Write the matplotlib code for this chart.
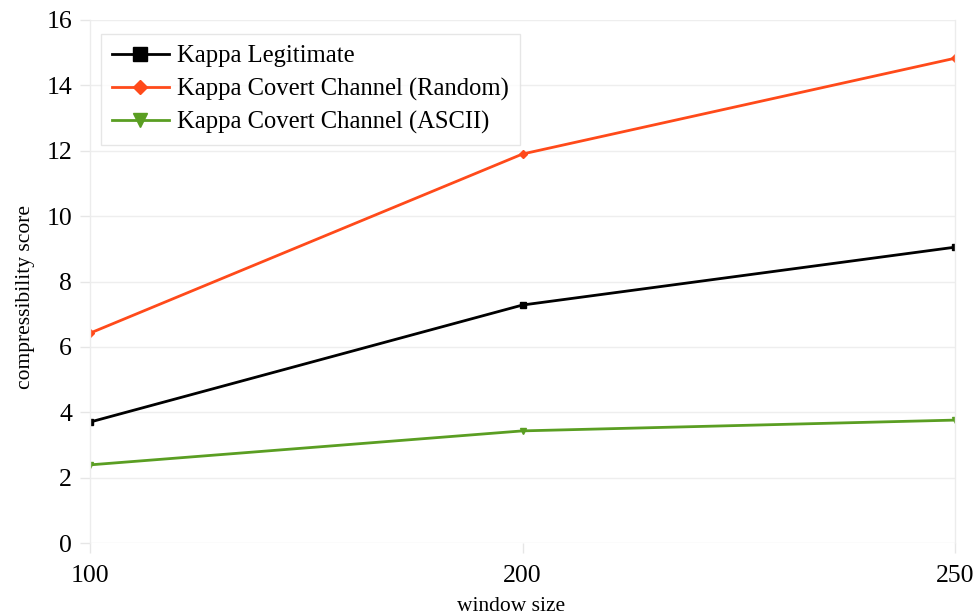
import matplotlib
matplotlib.use('Agg')
import matplotlib.pyplot as plt

plt.rcParams['font.family'] = ['Liberation Serif', 'DejaVu Serif']

window_sizes = ['100', '200', '250']
kappa_legit = [3.70, 7.28, 9.05]
kappa_random = [6.42, 11.90, 14.83]
kappa_ascii = [2.39, 3.43, 3.76]

fig = plt.figure(figsize=(9.76, 6.16), dpi=100)
ax = fig.add_axes([90 / 976, 1 - 543 / 616, 865 / 976, 523 / 616])

x = range(len(window_sizes))
ax.plot(x, kappa_legit, color='black', lw=2.0, marker='s', ms=5,
        label='Kappa Legitimate')
ax.plot(x, kappa_random, color='#ff4a1a', lw=2.0, marker='D', ms=4,
        label='Kappa Covert Channel (Random)')
ax.plot(x, kappa_ascii, color='#5a9e22', lw=2.0, marker='v', ms=5,
        label='Kappa Covert Channel (ASCII)')

ax.set_xlim(0, 2)
ax.set_ylim(0, 16)
ax.set_xticks(list(x))
ax.set_xticklabels(window_sizes)
ax.set_yticks(range(0, 17, 2))
ax.tick_params(labelsize=18.5, color='#e6e6e6', length=7, width=1)
ax.tick_params(axis='x', pad=9)
ax.tick_params(axis='y', pad=6)

# horizontal grid only, light side borders
ax.grid(True, axis='y', color='#eeeeee', lw=1)
for side in ['top', 'bottom']:
    ax.spines[side].set_visible(False)
for side in ['left', 'right']:
    ax.spines[side].set_color('#ececec')
    ax.spines[side].set_linewidth(1)
ax.set_axisbelow(True)

ax.set_xlabel('window size', fontsize=15.5)
ax.set_ylabel('compressibility score', fontsize=15.5)
ax.xaxis.set_label_coords(0.487, -0.104)
ax.yaxis.set_label_coords(-0.064, 0.47)

leg = ax.legend(loc='upper left', bbox_to_anchor=(0.0127, 0.973), borderaxespad=0,
                fontsize=17.7, frameon=True, fancybox=False, markerscale=1.9,
                handlelength=2.3, handletextpad=0.35, borderpad=0.45,
                labelspacing=0.42)
leg.get_frame().set_edgecolor('#e0e0e0')
leg.get_frame().set_linewidth(1)

fig.savefig('out.png', dpi=100)
